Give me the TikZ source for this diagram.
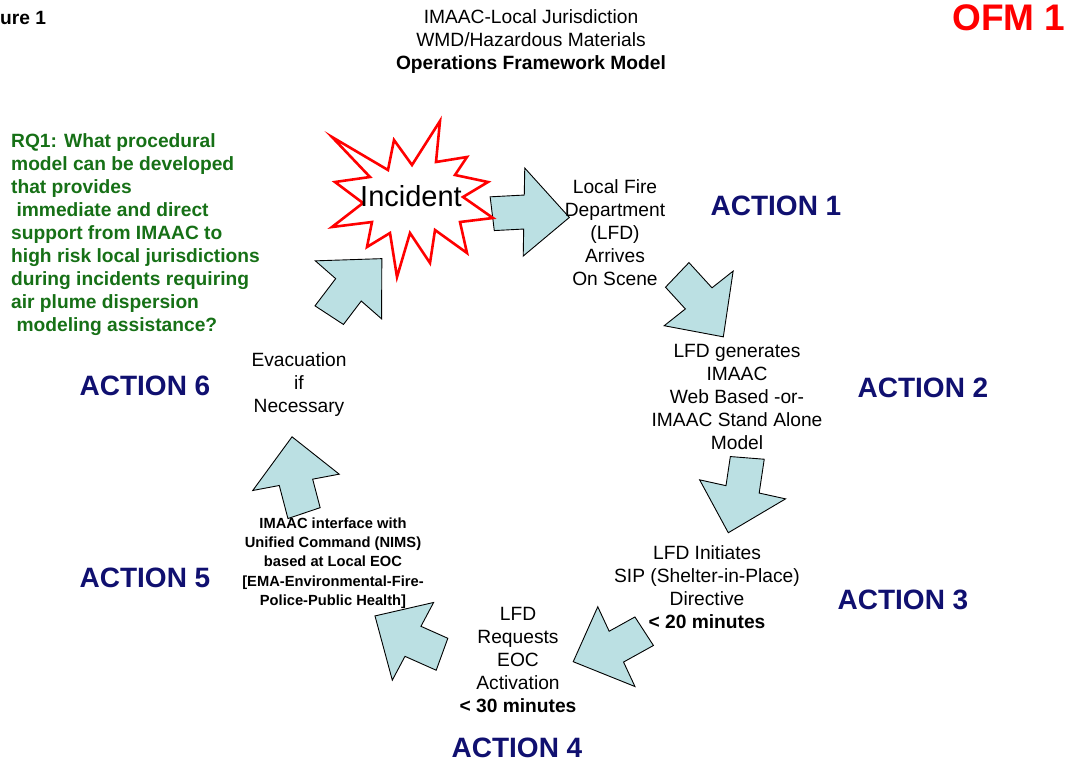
\documentclass[tikz,border=0pt]{standalone}
\usepackage{fontspec}
\setmainfont{Liberation Sans}
\usepackage{xcolor}
\usepackage{tikz}
\usetikzlibrary{positioning}

\definecolor{actionblue}{RGB}{16,16,112}
\definecolor{rqgreen}{RGB}{22,112,22}
\definecolor{ringfill}{RGB}{187,224,227}

\begin{document}
\begin{tikzpicture}[x=1pt, y=-1pt,
  stagetext/.style={align=center, inner sep=0pt, font=\fontsize{19.2}{23}\selectfont},
  actionlabel/.style={inner sep=0pt, text=actionblue, font=\fontsize{28}{32}\selectfont\bfseries},
  ringarrow/.style={draw=black, line width=0.9pt, fill=ringfill, line join=miter}]
  \useasboundingbox (0,0) rectangle (1069,764);

  % block arrows round the cycle (tail angle, clockwise)
  \foreach \b in {-97,-46.4,4.5,57,110,161.3,-146.8}
    \draw[ringarrow, shift={(520,440)}] (\b:211) -- (\b+8:211) -- (\b+8:184)
      -- (\b+19.5:228) -- (\b+8:272) -- (\b+8:245) -- (\b:245) -- cycle;

  % incident burst
  \draw[red, line width=2.6pt, fill=white, line join=miter]
    (440,121) -- (436,162) -- (467,157) -- (455,175) -- (488,182) -- (463,197)
    -- (493,218) -- (460,222) -- (467,253) -- (435,230) -- (430,263) -- (410,233)
    -- (397,277) -- (390,233) -- (367,247) -- (372,222) -- (332,227) -- (363,203)
    -- (335,182) -- (370,177) -- (332,137) -- (388,170) -- (394,140) -- (412,165) -- cycle;
  \node[inner sep=0pt, font=\fontsize{29}{32}\selectfont] (incident) at (411,196) {Incident};

  % header
  \node[anchor=west, inner sep=0pt, font=\fontsize{19.2}{23}\selectfont\bfseries] (figlabel) at (0,18) {ure 1};
  \node[stagetext] (title) at (531,42) {IMAAC-Local Jurisdiction\\ WMD/Hazardous Materials\\ \textbf{Operations Framework Model}};
  \node[inner sep=0pt, text=red, font=\fontsize{37}{40}\selectfont\bfseries] (ofm) at (1009,18) {OFM 1};

  % research question
  \node[anchor=west, align=left, inner sep=0pt, text=rqgreen, font=\fontsize{19.2}{23}\selectfont\bfseries] (rq) at (11,235)
    {RQ1: What procedural\\ model can be developed\\ that provides\\ \hspace*{0.28em}immediate and direct\\
     support from IMAAC to\\ high risk local jurisdictions\\ during incidents requiring\\ air plume dispersion\\
     \hspace*{0.28em}modeling assistance?};

  % stages
  \node[stagetext] (arrive) at (615,233) {Local Fire\\ Department\\ (LFD)\\ Arrives\\ On Scene};
  \node[stagetext] (generate) at (737,397) {LFD generates\\ IMAAC\\ Web Based -or-\\ IMAAC Stand Alone\\ Model};
  \node[stagetext] (shelter) at (707,587) {LFD Initiates\\ SIP (Shelter-in-Place)\\ Directive\\ \textbf{< 20 minutes}};
  \node[stagetext] (eoc) at (518,660) {LFD\\ Requests\\ EOC\\ Activation\\ \textbf{< 30 minutes}};
  \node[align=center, inner sep=0pt, font=\fontsize{14.7}{19.3}\selectfont\bfseries] (nims) at (333,563)
    {IMAAC interface with\\ Unified Command (NIMS)\\ based at Local EOC\\ {[}EMA-Environmental-Fire-\\ Police-Public Health{]}};
  \node[stagetext] (evacuate) at (299,385) {Evacuation\\ if\\ Necessary};

  % action labels
  \node[actionlabel] (action1) at (776,206) {ACTION 1};
  \node[actionlabel] (action2) at (923,388) {ACTION 2};
  \node[actionlabel] (action3) at (903,600) {ACTION 3};
  \node[actionlabel] (action4) at (517,748) {ACTION 4};
  \node[actionlabel] (action5) at (145,578) {ACTION 5};
  \node[actionlabel] (action6) at (145,386) {ACTION 6};
\end{tikzpicture}
\end{document}
